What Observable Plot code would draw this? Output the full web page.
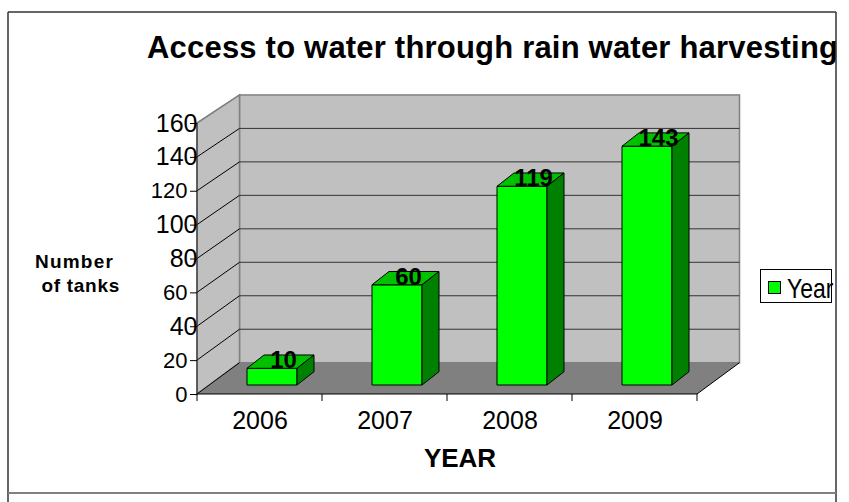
<!DOCTYPE html>
<html>
<head>
<meta charset="utf-8">
<script src="https://cdn.jsdelivr.net/npm/d3@7"></script>
<script src="https://cdn.jsdelivr.net/npm/@observablehq/plot@0.6"></script>
<style>
  html, body { margin: 0; padding: 0; background: #fff; }
  #wrap { position: relative; width: 849px; height: 502px; overflow: hidden; font-family: "Liberation Sans", Arial, sans-serif; }
  #chart { position: absolute; left: 0; top: 0; }
  #overlay { position: absolute; left: 0; top: 0; pointer-events: none; }
</style>
</head>
<body>
<div id="wrap">
  <div id="chart"></div>
  <svg id="overlay" width="849" height="502"></svg>
</div>
<script>
// ---- data ----
const years = ["2006", "2007", "2008", "2009"];
const tanks = [10, 60, 119, 143];
const yTicks = [0, 20, 40, 60, 80, 100, 120, 140, 160];
const yTicksLarge = [40, 80, 100, 140, 160];
const yTicksSmall = [0, 20, 60, 120];
const seriesName = "Year";
const chartTitle = "Access to water through rain water harvesting";
const xTitle = "YEAR";
const yTitleLines = ["Number", "of tanks"];

const data = years.map((year, i) => ({year, value: tanks[i]}));

// ---- 3D look ----
const depth = {dx: 42.5, dy: -31.3, k: 0.988};
const barGeom = {start: 0.4, end: 0.8, lift: 9, k: 0.986, dx: 17, dy: -13.3};
const colors = {front: "#00FF00", top: "#00C000", side: "#008000", wall: "#C0C0C0", floor: "#808080", edge: "#808080", grid: "#333333"};

function poly(g, pts, fill, stroke, sw = 1) {
  g.append("polygon")
    .attr("points", pts.map(p => p.join(",")).join(" "))
    .attr("fill", fill)
    .attr("stroke", stroke)
    .attr("stroke-width", sw);
}
function seg(g, a, b, stroke, sw = 1) {
  g.append("line")
    .attr("x1", a[0]).attr("y1", a[1]).attr("x2", b[0]).attr("y2", b[1])
    .attr("stroke", stroke).attr("stroke-width", sw);
}

function scene(index, scales) {
  const {x, y} = scales;
  const g = d3.create("svg:g");
  const bw = x(years[1]) - x(years[0]);
  const x0 = x(years[0]);
  const x1 = x(years[years.length - 1]) + bw;
  const yMax = d3.max(yTicks);
  const y0 = y(0), yT = y(yMax);
  const back = ([px, py]) => [px + depth.dx, y0 + depth.dy + (py - y0) * depth.k];

  // back wall
  const bl = back([x0, y0]), tr = back([x1, yT]);
  g.append("rect")
    .attr("x", bl[0]).attr("y", tr[1])
    .attr("width", tr[0] - bl[0]).attr("height", bl[1] - tr[1])
    .attr("fill", colors.wall).attr("stroke", colors.edge).attr("stroke-width", 1.5);
  // side wall
  poly(g, [[x0, y0], [x0, yT], back([x0, yT]), back([x0, y0])], colors.wall, colors.edge, 1.5);
  // floor
  poly(g, [[x0, y0], [x1, y0], back([x1, y0]), back([x0, y0])], colors.floor, "none");
  // gridlines on back wall
  for (const t of yTicks) {
    if (t > 0 && t < yMax) seg(g, back([x0, y(t)]), back([x1, y(t)]), colors.grid);
  }
  // diagonal gridlines on side wall
  for (const t of yTicks) {
    seg(g, [x0, y(t)], back([x0, y(t)]), t === yMax ? colors.edge : "#000");
  }
  // floor right edge and front edge
  seg(g, [x1, y0], back([x1, y0]), "#000");
  seg(g, [x0, y0], [x1, y0], "#000");
  seg(g, [x0, y0], [x0, yT], "#222");
  // category ticks at band edges
  for (let i = 0; i <= years.length; i++) {
    const xb = x0 + i * bw;
    seg(g, [xb, y0], [xb, y0 + 7], "#000");
  }
  // bars (drawn on a plane slightly behind the front axis)
  for (const d of data) {
    const bx0 = x(d.year) + bw * barGeom.start;
    const bx1 = x(d.year) + bw * barGeom.end;
    const yb = y0 - barGeom.lift;
    const yt = yb - (y0 - y(d.value)) * barGeom.k;
    const {dx, dy} = barGeom;
    poly(g, [[bx0, yt], [bx1, yt], [bx1, yb], [bx0, yb]], colors.front, "#000");
    poly(g, [[bx0, yt], [bx1, yt], [bx1 + dx, yt + dy], [bx0 + dx, yt + dy]], colors.top, "#000");
    poly(g, [[bx1, yt], [bx1, yb], [bx1 + dx, yb + dy], [bx1 + dx, yt + dy]], colors.side, "#000");
  }
  return g.node();
}

const plot = Plot.plot({
  width: 849,
  height: 502,
  marginLeft: 197,
  marginRight: 152,
  marginTop: 123,
  marginBottom: 108,
  x: {type: "band", domain: years, padding: 0, label: null},
  y: {domain: [0, 160], label: null},
  style: {fontFamily: "'Liberation Sans', Arial, sans-serif", color: "black", background: "transparent", overflow: "visible"},
  marks: [
    scene,
    Plot.axisY({ticks: yTicksSmall, tickSize: 7, tickPadding: 3, fontSize: 22, label: null, stroke: "black"}),
    Plot.axisY({ticks: yTicksLarge, tickSize: 7, tickPadding: -7, fontSize: 25, label: null, stroke: "black"}),
    Plot.axisX({tickSize: 0, tickPadding: 17, fontSize: 25, label: null}),
    Plot.text(data, {
      x: "year", y: d => d.value * barGeom.k, text: d => String(d.value),
      dx: 23.5, dy: -barGeom.lift - 0.5, lineAnchor: "bottom",
      fontSize: 24, fontWeight: "bold", fill: "black"
    })
  ]
});
document.getElementById("chart").appendChild(plot);

// ---- titles, legend, frame ----
const ov = d3.select("#overlay");
const font = "'Liberation Sans', Arial, sans-serif";
ov.append("defs").append("clipPath").attr("id", "clipR")
  .append("rect").attr("x", -10).attr("y", -40).attr("width", 69.5).attr("height", 60);

ov.append("text").attr("x", 147).attr("y", 58)
  .attr("font-family", font).attr("font-size", 31).attr("font-weight", "bold")
  .attr("letter-spacing", 0.2).attr("fill", "#000").text(chartTitle);

ov.append("text").attr("x", 35).attr("y", 268)
  .attr("font-family", font).attr("font-size", 19).attr("font-weight", "bold")
  .attr("letter-spacing", 1.2).attr("fill", "#000").text(yTitleLines[0]);
ov.append("text").attr("x", 41.5).attr("y", 292)
  .attr("font-family", font).attr("font-size", 19).attr("font-weight", "bold")
  .attr("letter-spacing", 0.7).attr("fill", "#000").text(yTitleLines[1]);

ov.append("text").attr("x", 460).attr("y", 467).attr("text-anchor", "middle")
  .attr("font-family", font).attr("font-size", 26).attr("font-weight", "bold")
  .attr("fill", "#000").text(xTitle);

// legend
ov.append("rect").attr("x", 760.5).attr("y", 269.5).attr("width", 71).attr("height", 33)
  .attr("fill", "#fff").attr("stroke", "#000").attr("stroke-width", 1);
ov.append("rect").attr("x", 768.5).attr("y", 281.5).attr("width", 12).attr("height", 12)
  .attr("fill", colors.front).attr("stroke", "#000").attr("stroke-width", 1);
ov.append("g").attr("transform", "translate(787,298) scale(0.82,1)")
  .append("text").attr("x", 0).attr("y", 0).attr("clip-path", "url(#clipR)")
  .attr("font-family", font).attr("font-size", 28)
  .attr("fill", "#000").text(seriesName);

// outer frame
ov.append("line").attr("x1", 8).attr("y1", 12).attr("x2", 836).attr("y2", 12).attr("stroke", "#333").attr("stroke-width", 1.5);
ov.append("line").attr("x1", 8).attr("y1", 12).attr("x2", 8).attr("y2", 502).attr("stroke", "#333").attr("stroke-width", 1.5);
ov.append("line").attr("x1", 836).attr("y1", 12).attr("x2", 836).attr("y2", 502).attr("stroke", "#333").attr("stroke-width", 1.5);
ov.append("line").attr("x1", 8).attr("y1", 493).attr("x2", 836).attr("y2", 493).attr("stroke", "#808080").attr("stroke-width", 2);
</script>
</body>
</html>
